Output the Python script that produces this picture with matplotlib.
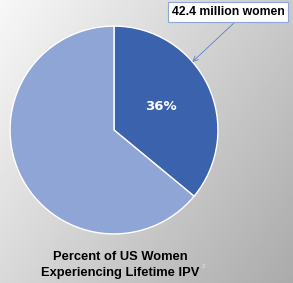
import numpy as np
import matplotlib.pyplot as plt

labels = ['Experienced IPV', 'Did not']
shares = [36, 64]
slice_colors = ['#3A62AD', '#8FA5D6']
callout = '42.4 million women'
title_lines = ['Percent of US Women', 'Experiencing Lifetime IPV']

W, H = 293, 283
fig = plt.figure(figsize=(W / 100, H / 100), dpi=100)
plt.rcParams['font.family'] = ['Liberation Sans', 'DejaVu Sans']

# gradient background, light top-left to gray bottom-right
bg = fig.add_axes([0, 0, 1, 1])
yy, xx = np.mgrid[0:1:200j, 0:1:200j]
g = 0.97 - 0.30 * (0.6 * xx + 0.4 * yy)
bg.imshow(g, cmap='gray', vmin=0, vmax=1, aspect='auto', extent=[0, 1, 0, 1], origin='upper')
bg.set_xlim(0, 1)
bg.set_ylim(0, 1)
bg.axis('off')

ax = fig.add_axes([8 / W, 1 - 236 / H, 212 / W, 212 / H])
wedges, _ = ax.pie(shares, colors=slice_colors, startangle=90, counterclock=False,
                   wedgeprops=dict(edgecolor='white', linewidth=1.0))
ax.set_xlim(-1.02, 1.02)
ax.set_ylim(-1.02, 1.02)
ax.set_aspect('equal')

# percent label inside the dark slice
mid = np.deg2rad(90 - shares[0] / 100 * 360 / 2)
ax.text(0.50 * np.cos(mid), 0.52 * np.sin(mid), f'{shares[0]}%', color='white',
        fontsize=9.5, fontweight='bold', ha='center', va='center', family='DejaVu Sans')

# callout box with arrow to the slice edge
tip = np.deg2rad(41)
ax.annotate(callout, xy=(np.cos(tip), np.sin(tip)), xycoords='data',
            xytext=(228 / W, 1 - 12 / H), textcoords='figure fraction',
            fontsize=8.8, fontweight='bold', ha='center', va='center',
            bbox=dict(boxstyle='square,pad=0.3', fc='white', ec='#8FA5D6', lw=0.8),
            arrowprops=dict(arrowstyle='->', color='#5B7FC4', lw=0.6,
                            shrinkA=0, shrinkB=0, relpos=(0.6, 0)),
            annotation_clip=False)

fig.text(120 / W, 1 - 257 / H, title_lines[0], ha='center', va='center',
         fontsize=9.3, fontweight='bold')
fig.text(120 / W, 1 - 273 / H, title_lines[1], ha='center', va='center',
         fontsize=9.3, fontweight='bold')
fig.text(202 / W, 1 - 266 / H, '2', ha='left', va='center', fontsize=4.5, color='#e4e4e4')

fig.savefig('out.png', dpi=100)
